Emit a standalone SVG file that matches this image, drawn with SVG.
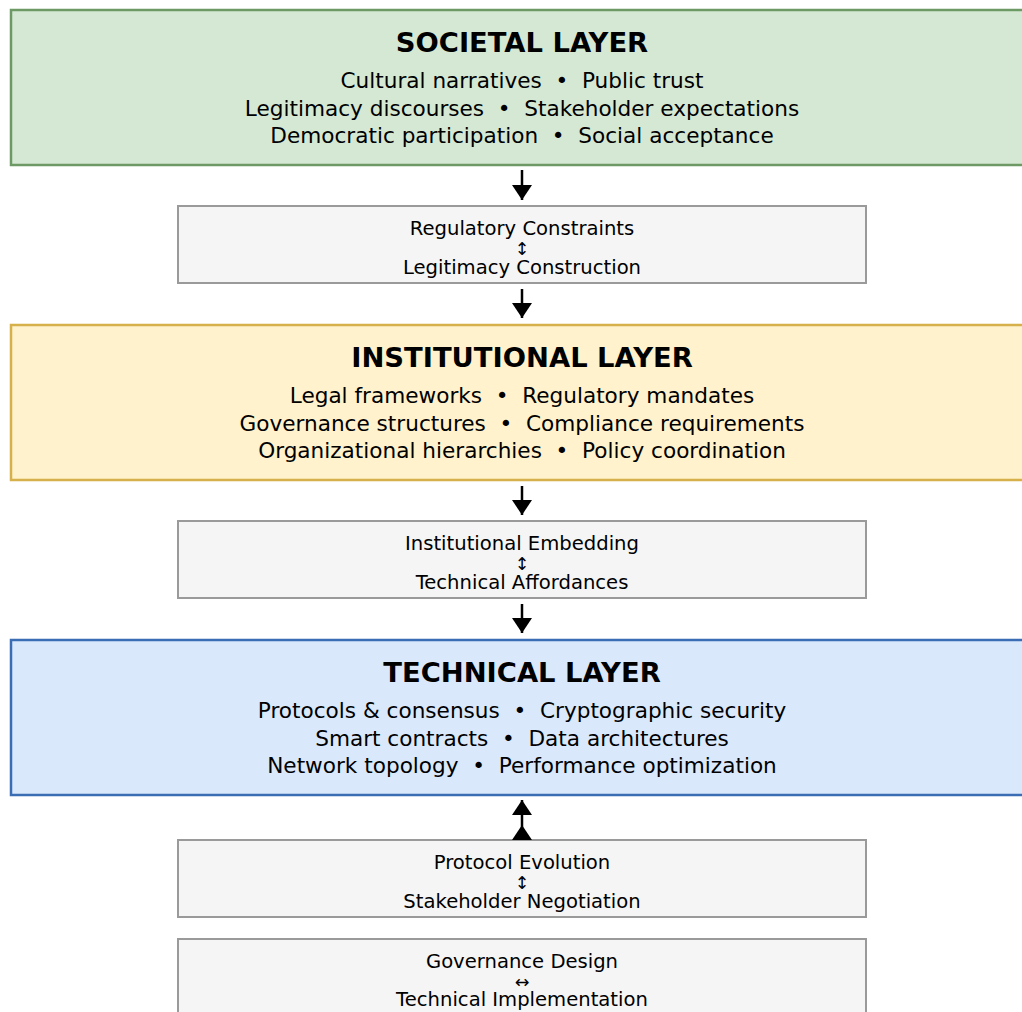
<svg xmlns="http://www.w3.org/2000/svg" width="1022" height="1012" viewBox="0 0 1022 1012">
<style>
text{font-family:"DejaVu Sans","Liberation Sans",sans-serif;fill:#000;text-anchor:middle}
.title{font-size:27.4px;font-weight:bold}
.body{font-size:21.6px}
.small{font-size:19.6px}
.arr{font-size:17.5px}
.layer{stroke-width:2.5}
.green{fill:#d5e8d4;stroke:#6d9a64}
.yellow{fill:#fff2cc;stroke:#d6b04a}
.blue{fill:#dae8fc;stroke:#3b6db5}
.link{fill:#f5f5f5;stroke:#9a9a9a;stroke-width:2}
.conn{stroke:#000;stroke-width:2.5;fill:none}
</style>
<defs>
<marker id="ah" markerUnits="userSpaceOnUse" markerWidth="20" markerHeight="20" viewBox="0 0 15 20" refX="15" refY="10" orient="auto">
<path d="M0,0 L15,10 L0,20 Z" fill="#000"/>
</marker>
<marker id="ahs" markerUnits="userSpaceOnUse" markerWidth="20" markerHeight="20" viewBox="0 0 15 20" refX="0" refY="10" orient="auto">
<path d="M0,0 L15,10 L0,20 Z" fill="#000"/>
</marker>
</defs>
<g id="societal-layer">
<rect class="layer green" x="11" y="10" width="1030" height="155"/>
<text class="title" x="522" y="52">SOCIETAL LAYER</text>
<text class="body" x="522" y="88" xml:space="preserve">Cultural narratives  •  Public trust</text>
<text class="body" x="522" y="115.5" xml:space="preserve">Legitimacy discourses  •  Stakeholder expectations</text>
<text class="body" x="522" y="143" xml:space="preserve">Democratic participation  •  Social acceptance</text>
</g>
<g id="link-regulatory">
<rect class="link" x="178" y="206" width="688" height="77"/>
<text class="small" x="522" y="235">Regulatory Constraints</text>
<text class="arr" x="522" y="254.5">↕</text>
<text class="small" x="522" y="274">Legitimacy Construction</text>
</g>
<g id="institutional-layer">
<rect class="layer yellow" x="11" y="325" width="1030" height="155"/>
<text class="title" x="522" y="367">INSTITUTIONAL LAYER</text>
<text class="body" x="522" y="403" xml:space="preserve">Legal frameworks  •  Regulatory mandates</text>
<text class="body" x="522" y="430.5" xml:space="preserve">Governance structures  •  Compliance requirements</text>
<text class="body" x="522" y="458" xml:space="preserve">Organizational hierarchies  •  Policy coordination</text>
</g>
<g id="link-embedding">
<rect class="link" x="178" y="521" width="688" height="77"/>
<text class="small" x="522" y="550">Institutional Embedding</text>
<text class="arr" x="522" y="569.5">↕</text>
<text class="small" x="522" y="589">Technical Affordances</text>
</g>
<g id="technical-layer">
<rect class="layer blue" x="11" y="640" width="1030" height="155"/>
<text class="title" x="522" y="682">TECHNICAL LAYER</text>
<text class="body" x="522" y="718" xml:space="preserve">Protocols &amp; consensus  •  Cryptographic security</text>
<text class="body" x="522" y="745.5" xml:space="preserve">Smart contracts  •  Data architectures</text>
<text class="body" x="522" y="773" xml:space="preserve">Network topology  •  Performance optimization</text>
</g>
<g id="link-protocol">
<rect class="link" x="178" y="840" width="688" height="77"/>
<text class="small" x="522" y="869">Protocol Evolution</text>
<text class="arr" x="522" y="888.5">↕</text>
<text class="small" x="522" y="908">Stakeholder Negotiation</text>
</g>
<g id="link-governance">
<rect class="link" x="178" y="939" width="688" height="90"/>
<text class="small" x="522" y="967.5">Governance Design</text>
<text class="arr" x="522" y="988">↔</text>
<text class="small" x="522" y="1006">Technical Implementation</text>
</g>
<g id="connectors">
<line class="conn" x1="522" y1="170" x2="522" y2="200" marker-end="url(#ah)"/>
<line class="conn" x1="522" y1="289" x2="522" y2="318" marker-end="url(#ah)"/>
<line class="conn" x1="522" y1="486" x2="522" y2="515" marker-end="url(#ah)"/>
<line class="conn" x1="522" y1="604" x2="522" y2="633" marker-end="url(#ah)"/>
<line class="conn" x1="522" y1="840" x2="522" y2="800" marker-start="url(#ahs)" marker-end="url(#ah)"/>
</g>
</svg>
